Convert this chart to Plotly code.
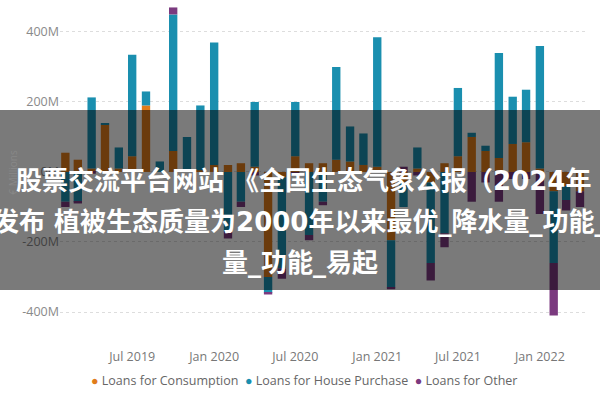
import plotly.graph_objects as go

# monthly net lending flows, EUR millions
months = [
    '2019-02', '2019-03', '2019-04', '2019-05', '2019-06', '2019-07', '2019-08', '2019-09', '2019-10', '2019-11', '2019-12',
    '2020-01', '2020-02', '2020-03', '2020-04', '2020-05', '2020-06', '2020-07', '2020-08', '2020-09', '2020-10', '2020-11', '2020-12',
    '2021-01', '2021-02', '2021-03', '2021-04', '2021-05', '2021-06', '2021-07', '2021-08', '2021-09', '2021-10', '2021-11', '2021-12',
    '2022-01', '2022-02', '2022-03', '2022-04',
]
consumption = [55, 35, 10, 135, 10, 45, 190, 0, 60, 5, 5,
               20, 20, 25, 15, -300, -15, 45, 25, 25, 35, 30, 20,
               15, -195, -30, 10, -30, 25, 45, 100, 60, 40, 80, 85,
               10, -55, -40, -55]
house_purchase = [-85, -85, 203, 5, 60, 290, 40, 30, 390, 95, 185,
                  350, -170, -85, 185, -45, -260, 155, -180, -85, 265, 100, 90,
                  370, -135, -70, 60, -230, -175, 195, 12, 15, 300, 135, 150,
                  350, -205, -40, 0]
other = [-15, -5, -5, 0, 0, 0, 0, 0, 20, 0, 0,
         0, -20, -15, -10, -5, -30, -10, -15, -10, 0, 0, 0,
         0, -5, 15, -10, -50, -40, 0, -85, -30, -85, -20, -20,
         -120, -150, -30, -45]

series_names = ['Loans for Consumption', 'Loans for House Purchase', 'Loans for Other']
series_colors = ['#E07C1A', '#1A8FAF', '#7B3A7F']

y_tickvals = [-400, -200, 0, 200, 400]
y_ticktext = ['-400M', '-200M', '0M', '200M', '400M']
x_tickvals = ['2019-07-01', '2020-01-01', '2020-07-01', '2021-01-01', '2021-07-01', '2022-01-01']
x_ticktext = ['Jul 2019', 'Jan 2020', 'Jul 2020', 'Jan 2021', 'Jul 2021', 'Jan 2022']

banner_lines = [
    '股票交流平台网站 《全国生态气象公报（2024年',
    '发布 植被生态质量为2000年以来最优_降水量_功能_',
    '量_功能_易起',
]

x_dates = [m + '-01' for m in months]

fig = go.Figure()
for name, values, color in zip(series_names, [consumption, house_purchase, other], series_colors):
    fig.add_trace(go.Bar(x=x_dates, y=values, name=name, marker=dict(color=color, line=dict(width=0)),
                         showlegend=False))

fig.update_layout(
    width=600, height=400,
    margin=dict(l=60, r=12, t=5, b=60),
    barmode='relative', bargap=0.33,
    plot_bgcolor='white', paper_bgcolor='white',
    font=dict(family='Open Sans, Noto Sans, sans-serif', size=11, color='#777777'),
)
fig.update_xaxes(type='date', range=['2019-01-20', '2022-04-19'],
                 tickvals=x_tickvals, ticktext=x_ticktext, showgrid=False, zeroline=False,
                 ticks='', ticklabelstandoff=7, tickfont=dict(size=12.5, color='#777777'))
fig.update_yaxes(range=[-480, 477], tickvals=y_tickvals, ticktext=y_ticktext,
                 showgrid=True, gridcolor='#dddddd', griddash='dot', zeroline=False,
                 tickfont=dict(size=12.5, color='#8a8a8a'),
                 title=dict(text='€ Millions', font=dict(size=10, color='#888888'), standoff=2))

# legend drawn Power BI style: dot + label
legend_text = '  '.join(f'<span style="color:{c}">●</span> {n}' for n, c in zip(series_names, series_colors))
fig.add_annotation(xref='paper', yref='paper', x=0.463, y=-0.122, text=legend_text, showarrow=False,
                   xanchor='center', yanchor='middle', font=dict(size=12.5, color='#666666'))

# grey banner over the chart
fig.add_shape(type='rect', xref='paper', yref='paper', x0=-0.2, x1=1.1, y0=0.149, y1=0.6866,
              fillcolor='rgba(0,0,0,0.52)', line=dict(width=0), layer='above')
for line, (xc, yc) in zip(banner_lines, [(0.462, 0.4746), (0.4545, 0.3522), (0.4545, 0.2299)]):
    fig.add_annotation(xref='paper', yref='paper', x=xc, y=yc, text=f'<b>{line}</b>', showarrow=False,
                       xanchor='center', yanchor='middle',
                       font=dict(family='DejaVu Sans, Noto Sans CJK SC', size=26, color='white'))

fig.write_html('out.html', config={'displayModeBar': False},
               post_script="document.body.style.margin='0';document.body.style.padding='0';")
